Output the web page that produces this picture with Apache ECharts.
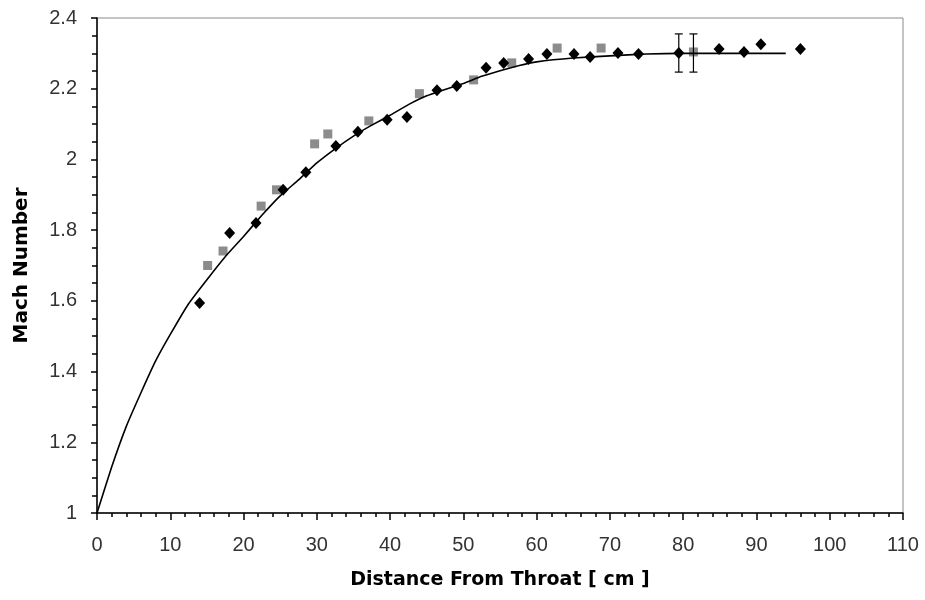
<!DOCTYPE html>
<html>
<head>
<meta charset="utf-8">
<title>Mach Number vs Distance From Throat</title>
<script src="https://cdn.jsdelivr.net/npm/echarts@6/dist/echarts.min.js"></script>
<style>
    html, body { margin: 0; padding: 0; background: #fff; }
    #chartDiv { width: 925px; height: 600px; }
</style>
</head>
<body>
<div id="chartDiv"></div>
<script>
// measured run (black diamonds)
var blackX = [14.0, 18.1, 21.7, 25.4, 28.5, 32.6, 35.6, 39.6, 42.3, 46.4, 49.1, 53.1, 55.5, 58.9, 61.4, 65.1, 67.3, 71.1, 73.9, 79.4, 84.9, 88.3, 90.6, 96.0];
var blackY = [1.594, 1.792, 1.82, 1.914, 1.964, 2.038, 2.078, 2.112, 2.12, 2.196, 2.208, 2.259, 2.273, 2.284, 2.298, 2.298, 2.29, 2.301, 2.298, 2.301, 2.312, 2.304, 2.326, 2.312];

// second run (gray squares)
var grayX = [15.1, 17.2, 22.4, 24.5, 29.7, 31.5, 37.1, 44.0, 51.4, 56.6, 62.8, 68.8, 81.4];
var grayY = [1.70, 1.741, 1.868, 1.914, 2.044, 2.072, 2.109, 2.186, 2.225, 2.273, 2.315, 2.315, 2.304];

// theory curve
var curveX = [0, 2, 4, 6, 8, 10, 12.5, 15, 17.5, 20, 22.5, 25, 27.5, 30, 32.5, 35, 37.5, 40, 42.5, 45, 47.5, 50, 52.5, 55, 57.5, 60, 65, 70, 75, 80, 85, 90, 94];
var curveY = [1.0, 1.13, 1.245, 1.34, 1.43, 1.505, 1.592, 1.66, 1.725, 1.782, 1.842, 1.897, 1.942, 1.99, 2.03, 2.066, 2.097, 2.125, 2.155, 2.18, 2.198, 2.215, 2.235, 2.251, 2.265, 2.276, 2.287, 2.293, 2.298, 2.3, 2.3, 2.3, 2.3];

// error bars
var errX = [79.4, 81.4];
var errLow = [2.247, 2.247];
var errHigh = [2.355, 2.355];

var xTicks = [0, 110, 10];
var yTicks = [1, 2.4, 0.2];

function pairs(xs, ys) {
    var out = [];
    for (var i = 0; i < xs.length; i++) {
        out.push([xs[i], ys[i]]);
    }
    return out;
}

function errData() {
    var out = [];
    for (var i = 0; i < errX.length; i++) {
        out.push([errX[i], errLow[i], errHigh[i]]);
    }
    return out;
}

function renderErr(params, api) {
    var lo = api.coord([api.value(0), api.value(1)]);
    var hi = api.coord([api.value(0), api.value(2)]);
    var w = 4;
    var style = { stroke : '#000', lineWidth : 1.2 };
    return {
        type : 'group',
        children : [
            { type : 'line', shape : { x1 : lo[0], y1 : lo[1], x2 : hi[0], y2 : hi[1] }, style : style },
            { type : 'line', shape : { x1 : lo[0] - w, y1 : lo[1], x2 : lo[0] + w, y2 : lo[1] }, style : style },
            { type : 'line', shape : { x1 : hi[0] - w, y1 : hi[1], x2 : hi[0] + w, y2 : hi[1] }, style : style }
        ]
    };
}

var labelFont = 'Liberation Sans, Arial, sans-serif';
var nameFont = 'DejaVu Sans, sans-serif';

var chart = echarts.init(document.getElementById('chartDiv'));
var option = {
    animation : false,
    backgroundColor : '#fff',
    grid : {
        left : 97,
        right : 22,
        top : 18,
        bottom : 87,
        show : true,
        borderColor : '#8a8a8a',
        borderWidth : 1
    },
    xAxis : {
        type : 'value',
        min : xTicks[0],
        max : xTicks[1],
        interval : xTicks[2],
        name : 'Distance From Throat [ cm ]',
        nameLocation : 'middle',
        nameGap : 58,
        nameTextStyle : { fontFamily : nameFont, fontWeight : 'bold', fontSize : 19, color : '#000' },
        axisLine : { show : true, onZero : false, lineStyle : { color : '#000', width : 1.5 } },
        axisTick : { show : true, inside : false, length : 7, lineStyle : { color : '#000', width : 1.5 } },
        minorTick : { show : true, splitNumber : 5, length : 4, lineStyle : { color : '#000', width : 1.5 } },
        splitLine : { show : false },
        axisLabel : { margin : 22, fontFamily : labelFont, fontSize : 20, color : '#333' }
    },
    yAxis : {
        type : 'value',
        min : yTicks[0],
        max : yTicks[1],
        interval : yTicks[2],
        name : 'Mach Number',
        nameLocation : 'middle',
        nameGap : 65,
        nameTextStyle : { fontFamily : nameFont, fontWeight : 'bold', fontSize : 20, color : '#000' },
        axisLine : { show : true, onZero : false, lineStyle : { color : '#000', width : 1.5 } },
        axisTick : { show : true, inside : false, length : 6, lineStyle : { color : '#000', width : 1.5 } },
        minorTick : { show : true, splitNumber : 4, length : 5, lineStyle : { color : '#000', width : 1.5 } },
        splitLine : { show : false },
        axisLabel : { margin : 20, fontFamily : labelFont, fontSize : 20, color : '#333' }
    },
    series : [
        {
            name : 'run 2',
            type : 'scatter',
            symbol : 'rect',
            symbolSize : 9,
            itemStyle : { color : '#8c8c8c', opacity : 1 },
            data : pairs(grayX, grayY),
            z : 2
        },
        {
            name : 'run 1',
            type : 'scatter',
            symbol : 'diamond',
            symbolSize : [11, 12],
            itemStyle : { color : '#000', opacity : 1 },
            data : pairs(blackX, blackY),
            z : 3
        },
        {
            name : 'error',
            type : 'custom',
            renderItem : renderErr,
            data : errData(),
            z : 4
        },
        {
            name : 'theory',
            type : 'line',
            showSymbol : false,
            smooth : 0.1,
            lineStyle : { color : '#000', width : 1.6 },
            data : pairs(curveX, curveY),
            z : 5
        }
    ]
};
chart.setOption(option);
</script>
</body>
</html>
